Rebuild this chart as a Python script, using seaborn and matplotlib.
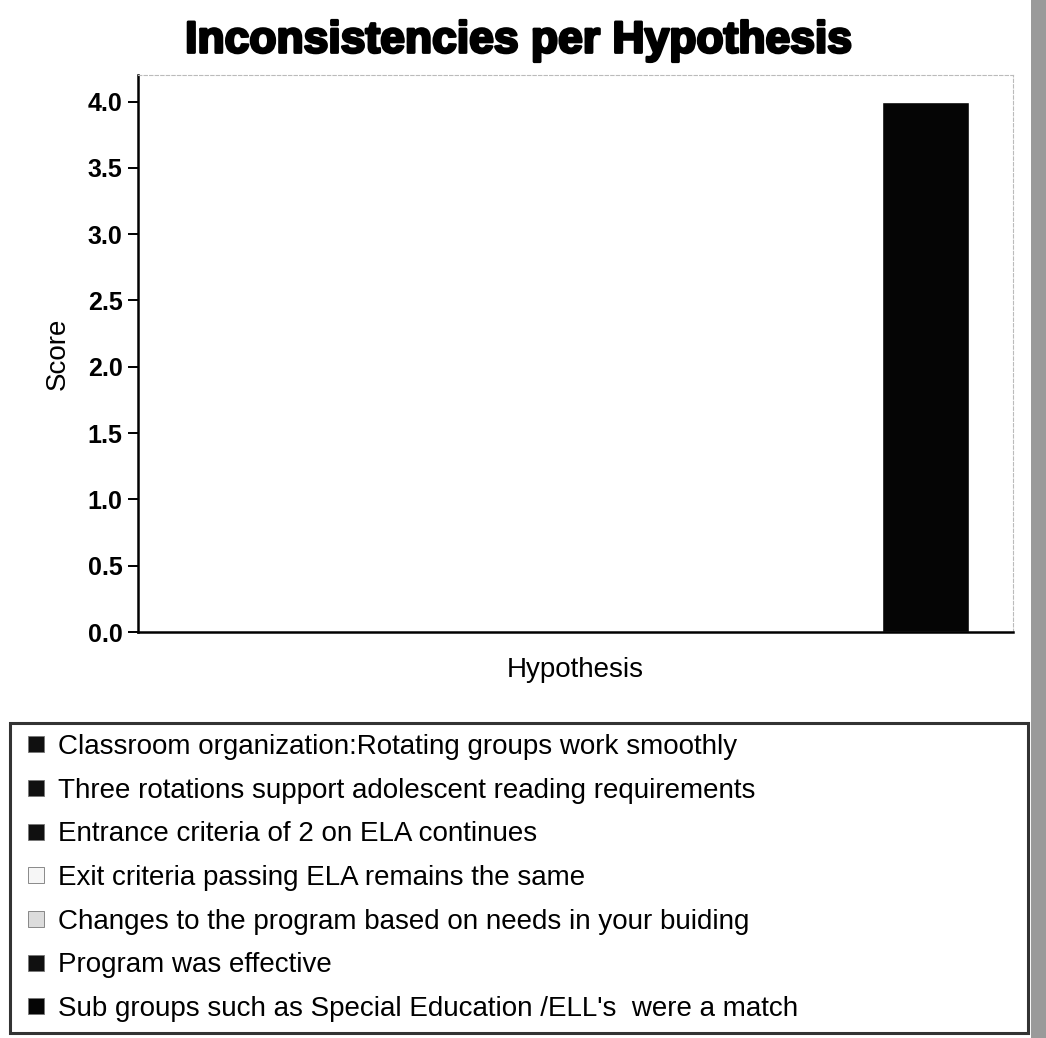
import matplotlib
matplotlib.use("Agg")
import matplotlib.pyplot as plt
import matplotlib.patheffects as pe
from matplotlib.lines import Line2D
import seaborn as sns
import pandas as pd

# data
hypotheses = [
    "Classroom organization:Rotating groups work smoothly",
    "Three rotations support adolescent reading requirements",
    "Entrance criteria of 2 on ELA continues",
    "Exit criteria passing ELA remains the same",
    "Changes to the program based on needs in your buiding",
    "Program was effective",
    "Sub groups such as Special Education /ELL's  were a match",
]
scores = [0, 0, 0, 0, 0, 0, 4.0]
colors = ["#101010", "#101010", "#101010", "#f6f6f6", "#dcdcdc", "#101010", "#050505"]
y_ticks = [0.0, 0.5, 1.0, 1.5, 2.0, 2.5, 3.0, 3.5, 4.0]

df = pd.DataFrame({"Hypothesis": hypotheses, "Score": scores})

sns.set_theme(style="white")
plt.rcParams["font.family"] = ["Liberation Sans", "DejaVu Sans"]
plt.rcParams["text.color"] = "black"
plt.rcParams["axes.labelcolor"] = "black"
plt.rcParams["ytick.color"] = "black"

fig = plt.figure(figsize=(10.46, 10.38), dpi=100)
W, H = 1046, 1038
ax = fig.add_axes([138 / W, 1 - 632 / H, (1013 - 138) / W, (632 - 75) / H])

sns.barplot(data=df, x="Hypothesis", y="Score", hue="Hypothesis",
            palette=colors, width=0.75, legend=False, ax=ax, saturation=1)

ax.set_xlim(-0.75, 6.75)
ax.set_ylim(0, 4.2)
ax.set_yticks(y_ticks)
ax.set_yticklabels([f"{t:.1f}" for t in y_ticks], fontsize=18, fontweight="bold")
ax.set_xticks([])
ax.tick_params(axis="y", left=True, length=7, width=1.4, color="black", pad=4)

for side in ["left", "bottom"]:
    ax.spines[side].set_color("black")
    ax.spines[side].set_linewidth(1.8)
for side in ["top", "right"]:
    ax.spines[side].set_color("#bbbbbb")
    ax.spines[side].set_linewidth(0.8)
    ax.spines[side].set_linestyle((0, (3, 2)))

ax.set_ylabel("Score", fontsize=20, labelpad=12)
ax.set_xlabel("Hypothesis", fontsize=20, labelpad=18)
title = fig.suptitle("Inconsistencies per Hypothesis", fontsize=32, fontweight="bold",
                     y=1 - 41 / H, va="center", x=519 / W)
title.set_path_effects([pe.withStroke(linewidth=2, foreground="black")])

# legend box below the chart, spread to fill the box from y=723 to y=1033
handles = [Line2D([], [], linestyle="none", marker="s", markersize=11.5,
                  markerfacecolor=c, markeredgecolor="#777777", markeredgewidth=0.6)
           for c in colors]
legend_fs = 20


def make_legend(spacing):
    lg = fig.legend(handles, hypotheses, loc="upper left",
                    bbox_to_anchor=(10 / W, 0, (1028 - 10) / W, 1 - 723 / H),
                    mode="expand", fontsize=legend_fs, frameon=True, fancybox=False,
                    handlelength=1.1, handletextpad=0.24,
                    labelspacing=spacing, borderpad=0.4, borderaxespad=0)
    lg.get_frame().set_edgecolor("black")
    lg.get_frame().set_linewidth(2.2)
    return lg


leg = make_legend(0)
fig.canvas.draw()
h0 = leg.get_window_extent().height
leg.remove()
fs_px = legend_fs * 100 / 72
leg = make_legend((1033 - 723 - h0) / (6 * fs_px))

# scanner edge strip on the right
fig.patches.append(plt.Rectangle((1031 / W, 0), 15 / W, 1, transform=fig.transFigure,
                                 facecolor="#9a9a9a", edgecolor="none"))

fig.savefig("out.png", dpi=100)
